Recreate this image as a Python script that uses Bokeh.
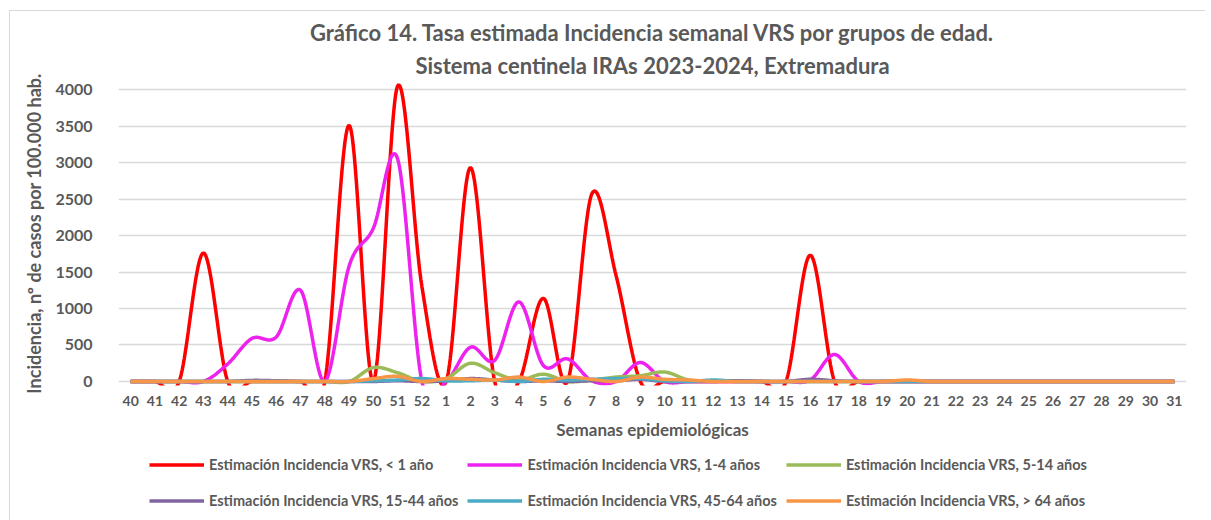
import numpy as np
from bokeh.plotting import figure
from bokeh.layouts import column
from bokeh.models import (Range1d, FixedTicker, Legend, LegendItem, Title, ColumnDataSource)
from bokeh.embed import file_html
from bokeh.resources import INLINE

weeks = [str(w) for w in range(40, 53)] + [str(w) for w in range(1, 32)]

lt1 = [0, 0, 0, 1760, 0, 0, 0, 0, 0, 3510, 0, 4050, 1300,
       0, 2930, 0, 0, 1140, 0, 2570, 1450, 0, 0, 0, 0, 0, 0, 0, 1730,
       0, 0, 0, 0, 0, 0, 0, 0, 0, 0, 0, 0, 0, 0, 0]
a1_4 = [0, 0, 0, 0, 240, 590, 610, 1250, 0, 1580, 2100, 3050, 0,
        0, 470, 290, 1090, 220, 310, 10, 0, 260, 0, 0, 0, 0, 0, 0, 20,
        370, 0, 0, 0, 0, 0, 0, 0, 0, 0, 0, 0, 0, 0, 0]
a5_14 = [0, 0, 0, 0, 0, 0, 0, 0, 0, 0, 190, 120, 0,
         40, 250, 120, 20, 100, 0, 20, 60, 80, 130, 20, 10, 0, 0, 0, 0,
         0, 0, 0, 0, 0, 0, 0, 0, 0, 0, 0, 0, 0, 0, 0]
a15_44 = [0, 0, 0, 0, 0, 15, 10, 0, 0, 0, 0, 10, 0,
          10, 40, 20, 0, 10, 0, 10, 10, 30, 0, 0, 0, 10, 0, 0, 30,
          10, 0, 0, 0, 0, 0, 0, 0, 0, 0, 0, 0, 0, 0, 0]
a45_64 = [0, 0, 0, 0, 0, 0, 0, 0, 0, 0, 10, 20, 40,
          10, 10, 20, 0, 30, 20, 30, 40, 40, 10, 0, 20, 0, 0, 0, 0,
          0, 0, 0, 0, 0, 0, 0, 0, 0, 0, 0, 0, 0, 0, 0]
gt64 = [0, 0, 0, 0, 0, 0, 0, 0, 0, 0, 40, 70, 0,
        40, 30, 20, 60, 0, 60, 30, 0, 60, 30, 20, 0, 0, 0, 0, 0,
        0, 0, 0, 20, 0, 0, 0, 0, 0, 0, 0, 0, 0, 0, 0]

series_names = ["Estimación Incidencia VRS, < 1 año",
                "Estimación Incidencia VRS, 1-4 años",
                "Estimación Incidencia VRS, 5-14 años",
                "Estimación Incidencia VRS, 15-44 años",
                "Estimación Incidencia VRS, 45-64 años",
                "Estimación Incidencia VRS, > 64 años"]
series_values = [lt1, a1_4, a5_14, a15_44, a45_64, gt64]
colors = ["#FF0000", "#EE22EE", "#9BBB59", "#8064A2", "#4BACC6", "#F79646"]

y_ticks = list(range(0, 4001, 500))


def smooth(vals, n=24):
    P = np.asarray(vals, dtype=float)
    N = len(P)
    xs, ys = [], []
    for i in range(N - 1):
        p0 = P[i - 1] if i > 0 else P[i]
        p1, p2 = P[i], P[i + 1]
        p3 = P[i + 2] if i + 2 < N else P[i + 1]
        c1 = p1 + (p2 - p0) / 6.0
        c2 = p2 - (p3 - p1) / 6.0
        t = np.linspace(0, 1, n, endpoint=(i == N - 2))
        y = ((1 - t) ** 3) * p1 + 3 * ((1 - t) ** 2) * t * c1 + 3 * (1 - t) * t ** 2 * c2 + t ** 3 * p2
        xs.append(i + t)
        ys.append(y)
    return np.concatenate(xs), np.concatenate(ys)


FONT = "Lato"
GREY = "#595959"

p = figure(width=1195, height=434, output_backend="svg", toolbar_location=None,
           x_range=Range1d(-0.5, len(weeks) - 0.5), y_range=Range1d(-55, 4110),
           title="Gráfico 14. Tasa estimada Incidencia semanal VRS por grupos de edad.",
           min_border_left=108, min_border_right=19, min_border_top=70,
           min_border_bottom=60)
p.title.align = "center"
p.title.offset = 53
p.title.standoff = 3
p.title.text_font = FONT
p.title.text_font_size = "22px"
p.title.text_color = GREY
p.title.text_font_style = "bold"
p.add_layout(Title(text="Sistema centinela IRAs 2023-2024, Extremadura",
                   align="center", offset=53, standoff=5, text_font=FONT,
                   text_font_size="22px", text_color=GREY, text_font_style="bold"), "above")

p.outline_line_color = None
p.background_fill_color = "white"
p.border_fill_color = "white"

p.xgrid.visible = False
p.ygrid.ticker = FixedTicker(ticks=y_ticks)
p.ygrid.grid_line_color = "#D9D9D9"
p.ygrid.grid_line_width = 1.5

p.xaxis.ticker = FixedTicker(ticks=list(range(len(weeks))))
p.xaxis.major_label_overrides = {i: w for i, w in enumerate(weeks)}
p.xaxis.axis_label = "Semanas epidemiológicas"
p.yaxis.ticker = FixedTicker(ticks=y_ticks)
p.yaxis.axis_label = "Incidencia, nº de casos por 100.000 hab."
for ax in (p.xaxis, p.yaxis):
    ax.axis_line_color = None
    ax.major_tick_line_color = None
    ax.minor_tick_line_color = None
    ax.major_label_text_font = FONT
    ax.major_label_text_font_style = "bold"
    ax.major_label_text_color = GREY
    ax.axis_label_text_font = FONT
    ax.axis_label_text_font_style = "bold"
    ax.axis_label_text_color = GREY
p.xaxis.axis_label_text_font_size = "17px"
p.yaxis.axis_label_text_font_size = "18px"
p.xaxis.major_label_text_font_size = "14px"
p.yaxis.major_label_text_font_size = "16px"
p.xaxis.major_label_standoff = 4
p.yaxis.major_label_standoff = 20
p.xaxis.axis_label_standoff = 10
p.yaxis.axis_label_standoff = 7

# legend strip below the chart; its ranges sit far above the data so that
# only the legend entries show
pl = figure(width=1195, height=75, output_backend="svg", toolbar_location=None,
            x_axis_type=None, y_axis_type=None,
            x_range=Range1d(0, 1), y_range=Range1d(100000, 100001), min_border=0)
pl.outline_line_color = None
pl.background_fill_color = "white"
pl.border_fill_color = "white"

items = {}
for name, vals, col in zip(series_names, series_values, colors):
    xs, ys = smooth(vals)
    src = ColumnDataSource(dict(x=xs, y=ys))
    p.line("x", "y", source=src, line_color=col, line_width=3.5)
    r = pl.line("x", "y", source=src, line_color=col, line_width=3.5)
    items[name] = LegendItem(label=name, renderers=[r])

# legend fills column by column: order so that rows read like the reference
order = [0, 3, 1, 4, 2, 5]
legend = Legend(items=[items[series_names[i]] for i in order], ncols=3, location=(31, 6))
legend.border_line_color = None
legend.background_fill_alpha = 0
legend.glyph_width = 55
legend.glyph_height = 27
legend.label_height = 27
legend.label_width = 242
legend.label_standoff = 5
legend.spacing = 9
legend.padding = 0
legend.margin = 0
legend.label_text_font = FONT
legend.label_text_font_style = "bold"
legend.label_text_font_size = "14.5px"
legend.label_text_color = GREY
pl.add_layout(legend, "center")

layout = column(p, pl, spacing=0,
                styles={"margin-left": "9px", "margin-top": "10px",
                        "border-left": "1px solid #D9D9D9",
                        "border-top": "1px solid #D9D9D9"})
open("out.html", "w").write(file_html(layout, INLINE))
